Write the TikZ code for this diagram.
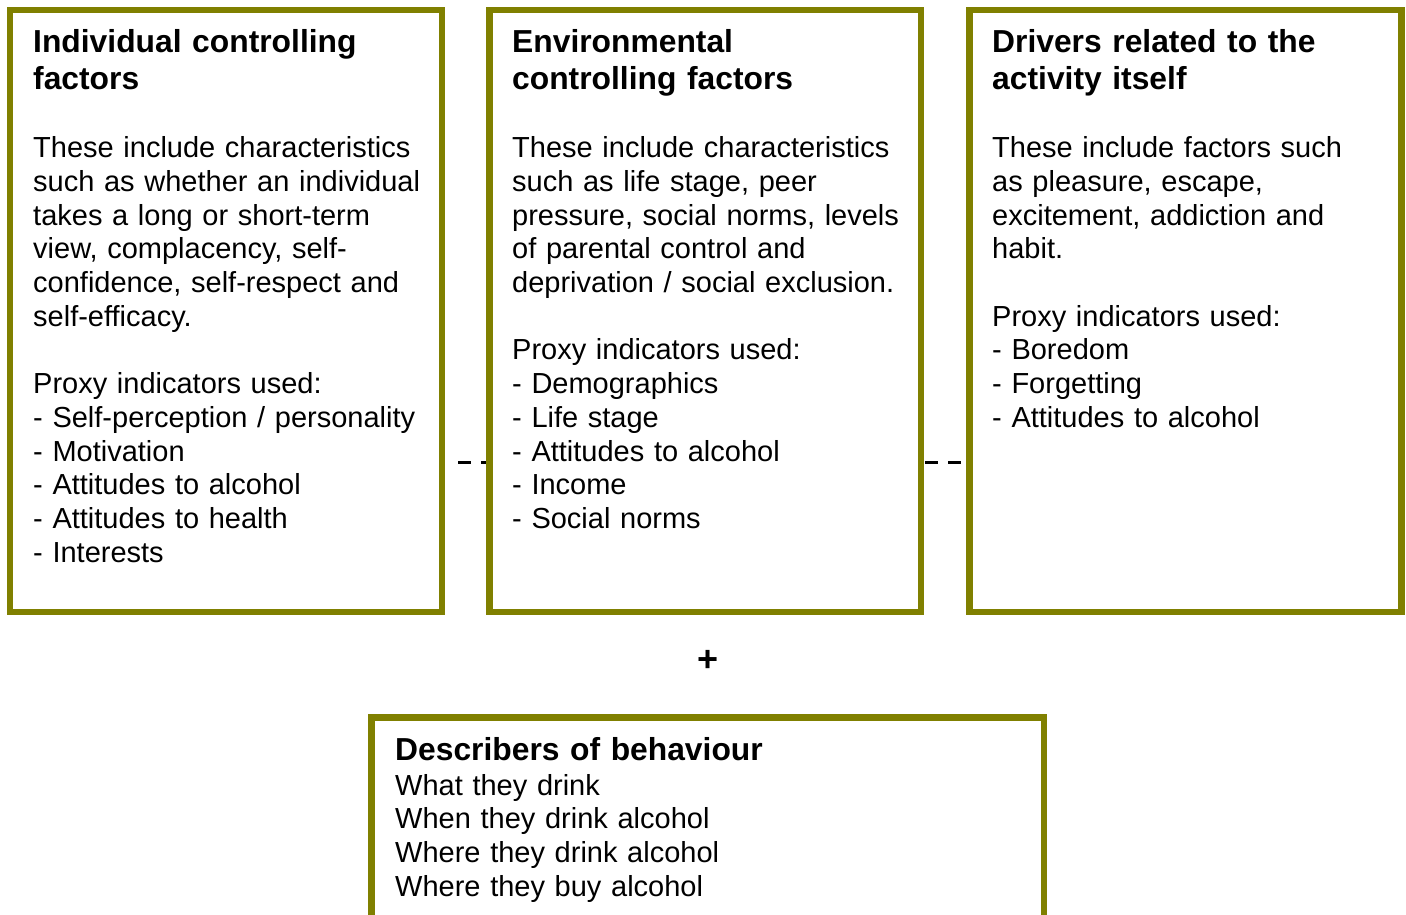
\documentclass[tikz,border=0pt]{standalone}
\usepackage{fontspec}
\setmainfont{Liberation Sans}
\usetikzlibrary{backgrounds}
\definecolor{boxolive}{HTML}{808000}

\begin{document}
\begin{tikzpicture}[x=1pt, y=-1pt,
    factorbox/.style = {draw = boxolive, line width = 6.5pt, fill = white},
    heading/.style = {anchor = base west, inner sep = 0pt, text width = 400pt, align = left,
        font = \fontsize{31.8}{37}\selectfont\bfseries},
    bodytext/.style = {anchor = base west, inner sep = 0pt, text width = 400pt, align = left,
        font = \fontsize{29}{33.75}\selectfont},
    linkdash/.style = {line width = 3pt, dash pattern = on 13pt off 10pt}]

    \useasboundingbox (0,0) rectangle (1406,915);

    %Individual
    \node [factorbox, minimum width = 432pt, minimum height = 602pt]
    (indiv)at(226,311){};
    \node [heading] (indivhead)at(33,52.5){Individual controlling\\factors};
    \node [bodytext] (indivtext)at(33,157.5){These include characteristics\\
        such as whether an individual\\takes a long or short-term\\
        view, complacency, self-\\confidence, self-respect and\\self-efficacy.\\[33.75pt]
        Proxy indicators used:\\- Self-perception / personality\\- Motivation\\
        - Attitudes to alcohol\\- Attitudes to health\\- Interests};

    %Environmental
    \node [factorbox, minimum width = 431.5pt, minimum height = 602pt]
    (envir)at(705.25,311){};
    \node [heading] (envirhead)at(512,52.5){Environmental\\controlling factors};
    \node [bodytext] (envirtext)at(512,157.5){These include characteristics\\
        such as life stage, peer\\pressure, social norms, levels\\
        of parental control and\\deprivation / social exclusion.\\[33.75pt]
        Proxy indicators used:\\- Demographics\\- Life stage\\
        - Attitudes to alcohol\\- Income\\- Social norms};

    %Activity
    \node [factorbox, minimum width = 432pt, minimum height = 602pt]
    (activ)at(1185.5,311){};
    \node [heading] (activhead)at(992,52.5){Drivers related to the\\activity itself};
    \node [bodytext] (activtext)at(992,157.5){These include factors such\\
        as pleasure, escape,\\excitement, addiction and\\habit.\\[33.75pt]
        Proxy indicators used:\\- Boredom\\- Forgetting\\- Attitudes to alcohol};

    %Plus
    \node [inner sep = 0pt, font = \fontsize{36}{40}\selectfont\bfseries]
    (plus)at(708,661){+};

    %Behaviour
    \node [factorbox, minimum width = 672.5pt, minimum height = 200.5pt]
    (behav)at(707.75,817.75){};
    \node [heading] (behavhead)at(395,760){Describers of behaviour};
    \node [bodytext] (behavtext)at(395,795){What they drink\\When they drink alcohol\\
        Where they drink alcohol\\Where they buy alcohol};

    %Dashed links, behind the boxes
    \coordinate (linkA) at (indiv.east |- 0,462);
    \coordinate (linkB) at (envir.west |- 0,462);
    \coordinate (linkC) at (envir.east |- 0,462);
    \coordinate (linkD) at (activ.west |- 0,462);

    \begin{pgfonlayer}{background}
    \draw [linkdash, dash phase = 13pt, shorten < = 3pt](linkA)--(linkB);
    \draw [linkdash, shorten < = 1pt](linkC)--(linkD);
    \end{pgfonlayer}

\end{tikzpicture}
\end{document}
